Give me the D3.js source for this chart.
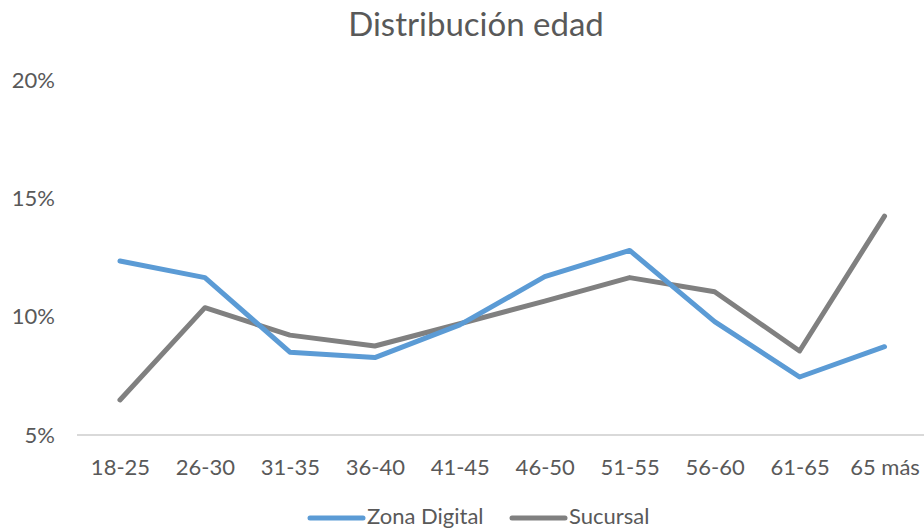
<!DOCTYPE html>
<html>
<head>
<meta charset="utf-8">
<script src="https://cdn.jsdelivr.net/npm/d3@7"></script>
<style>
  html, body { margin: 0; padding: 0; background: #fff; }
  svg { display: block; }
  text { font-family: Lato, "Open Sans", sans-serif; fill: #595959; }
</style>
</head>
<body>
<svg id="chart" width="924" height="529"></svg>
<script>
// Age brackets on the x axis
const categories = ["18-25", "26-30", "31-35", "36-40", "41-45", "46-50", "51-55", "56-60", "61-65", "65 más"];
// Share of customers per bracket (%)
const zonaDigital = [12.35, 11.65, 8.5, 8.27, 9.65, 11.69, 12.8, 9.79, 7.45, 8.73];
const sucursal    = [6.48, 10.38, 9.22, 8.76, 9.7, 10.66, 11.65, 11.05, 8.55, 14.25];
// Y axis ticks (%)
const yTicks = [5, 10, 15, 20];
const seriesNames = ["Zona Digital", "Sucursal"];
const seriesColors = ["#5B9BD5", "#808080"];

const svg = d3.select("#chart");

const x = d3.scalePoint().domain(categories).range([77.5, 927]).padding(0.5);
const y = d3.scaleLinear().domain([5, 20]).range([435, 80]);

// Title
svg.append("text")
  .attr("x", 476).attr("y", 36)
  .attr("text-anchor", "middle")
  .style("font-size", "33px")
  .text("Distribución edad");

// Y axis (labels only)
const yAxis = d3.axisLeft(y).tickValues(yTicks).tickSize(0).tickPadding(0)
  .tickFormat(d => d + "%");
svg.append("g")
  .attr("transform", "translate(55,0)")
  .call(yAxis)
  .call(g => g.select(".domain").remove())
  .call(g => g.selectAll("text")
    .style("font-size", "22px")
    .attr("fill", "#595959")
    .attr("font-family", "Lato, 'Open Sans', sans-serif"));

// Baseline
svg.append("line")
  .attr("x1", 77).attr("x2", 924)
  .attr("y1", y(5)).attr("y2", y(5))
  .attr("stroke", "#d9d9d9").attr("stroke-width", 2);

// X axis labels
const xAxis = d3.axisBottom(x).tickSize(0).tickPadding(0);
svg.append("g")
  .attr("transform", "translate(0,459)")
  .call(xAxis)
  .call(g => g.select(".domain").remove())
  .call(g => g.selectAll("text")
    .style("font-size", "22px")
    .attr("dy", "0.72em")
    .attr("y", 0)
    .attr("fill", "#595959")
    .attr("font-family", "Lato, 'Open Sans', sans-serif"));

// Lines: Sucursal first so Zona Digital sits on top
const line = d3.line()
  .x((d, i) => x(categories[i]))
  .y(d => y(d));

[[sucursal, 1], [zonaDigital, 0]].forEach(([vals, idx]) => {
  svg.append("path")
    .datum(vals)
    .attr("d", line)
    .attr("fill", "none")
    .attr("stroke", seriesColors[idx])
    .attr("stroke-width", 5)
    .attr("stroke-linecap", "round")
    .attr("stroke-linejoin", "round");
});

// Legend
const legendX = [310, 512];
seriesNames.forEach((name, i) => {
  const g = svg.append("g").attr("transform", `translate(${legendX[i]},518)`);
  g.append("line")
    .attr("x1", 0).attr("x2", 53)
    .attr("y1", 0).attr("y2", 0)
    .attr("stroke", seriesColors[i])
    .attr("stroke-width", 5)
    .attr("stroke-linecap", "round");
  g.append("text")
    .attr("x", 57).attr("y", 6)
    .style("font-size", "22px")
    .text(name);
});
</script>
</body>
</html>
